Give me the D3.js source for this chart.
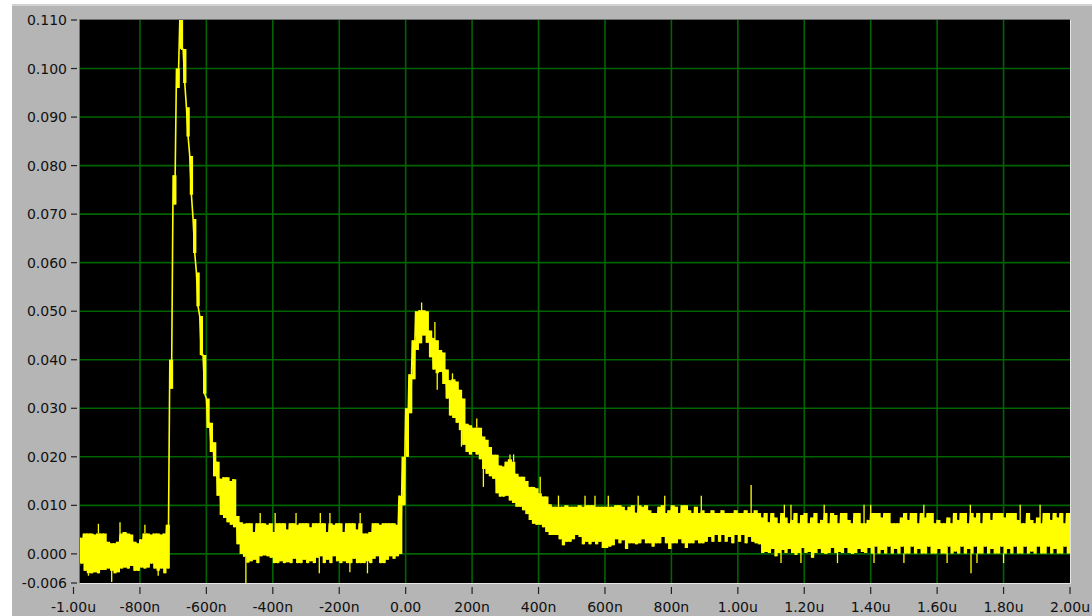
<!DOCTYPE html>
<html>
<head>
<meta charset="utf-8">
<script src="https://cdn.jsdelivr.net/npm/d3@7"></script>
<style>
  html, body { margin: 0; padding: 0; background: #ffffff; }
  svg { display: block; }
  text { font-family: "DejaVu Sans", sans-serif; font-size: 14px; fill: #111; }
</style>
</head>
<body>
<svg id="chart" width="1092" height="616"></svg>
<script>
// Waveform capture: amplitude vs. time, sampled every 10 ns from -1.00 us to 2.00 us.
// Each sample holds the upper and lower extent of the noisy trace in that interval.
const sampleStartNs = -1000;
const sampleStepNs = 10;

const bandHigh = [
  // -1000 .. -730 ns : pre-trigger baseline
  0.0035, 0.0035, 0.0033, 0.0042, 0.0042, 0.0042, 0.0040, 0.0042, 0.0042, 0.0042,
  0.0025, 0.0022, 0.0022, 0.0025, 0.0042, 0.0045, 0.0042, 0.0040, 0.0025, 0.0022,
  0.0030, 0.0042, 0.0042, 0.0040, 0.0042, 0.0042, 0.0040, 0.0042,
  // -720 .. -490 ns : first pulse
  0.006, 0.040, 0.078, 0.100, 0.110, 0.104, 0.092, 0.082, 0.069, 0.058,
  0.049, 0.041, 0.032, 0.027, 0.023, 0.019, 0.0155, 0.0158, 0.0158, 0.0150,
  0.0154, 0.0078, 0.0065, 0.0062,
  // -480 .. -30 ns : baseline between pulses
  0.0063, 0.0063, 0.0045, 0.0063, 0.0063, 0.0063, 0.0060, 0.0063, 0.0045, 0.0063,
  0.0063, 0.0063, 0.0050, 0.0063, 0.0063, 0.0060, 0.0063, 0.0063, 0.0063, 0.0055,
  0.0063, 0.0063, 0.0063, 0.0063, 0.0045, 0.0063, 0.0060, 0.0063, 0.0063, 0.0045,
  0.0063, 0.0063, 0.0063, 0.0050, 0.0063, 0.0042, 0.0042, 0.0045, 0.0063, 0.0063,
  0.0060, 0.0063, 0.0063, 0.0063, 0.0063, 0.0060,
  // -20 .. 630 ns : second pulse and tail
  0.012, 0.020, 0.030, 0.037, 0.044, 0.050, 0.0502, 0.0502, 0.0500, 0.046,
  0.0445, 0.0440, 0.0420, 0.0415, 0.038, 0.0358, 0.036, 0.0355, 0.0338, 0.032,
  0.0268, 0.0265, 0.026, 0.026, 0.026, 0.0242, 0.0235, 0.022, 0.0204, 0.0204,
  0.0182, 0.0180, 0.0190, 0.0195, 0.019, 0.0165, 0.0159, 0.0159, 0.0150, 0.0138,
  0.0138, 0.0135, 0.0125, 0.0118, 0.0118, 0.0102, 0.0097, 0.0097, 0.0097, 0.0097,
  0.0100, 0.0097, 0.0097, 0.0097, 0.0100, 0.0097, 0.0100, 0.0100, 0.0100, 0.0097,
  0.0097, 0.0097, 0.0097, 0.0097, 0.0097, 0.0100,
  // 640 .. 2000 ns : settled baseline
  0.0100, 0.0097, 0.0090, 0.0097, 0.0100, 0.0085, 0.0100, 0.0097, 0.0100, 0.0090,
  0.0084, 0.0084, 0.0097, 0.0100, 0.0084, 0.0090, 0.0100, 0.0097, 0.0084, 0.0100,
  0.0100, 0.0090, 0.0084, 0.0097, 0.0084, 0.0090, 0.0084, 0.0084, 0.0090, 0.0084,
  0.0084, 0.0090, 0.0084, 0.0084, 0.0084, 0.0090, 0.0084, 0.0084, 0.0090, 0.0084,
  0.0084, 0.0090, 0.0084, 0.0075, 0.0084, 0.0065, 0.0084, 0.0075, 0.0063, 0.0084,
  0.0075, 0.0063, 0.0070, 0.0084, 0.0063, 0.0080, 0.0084, 0.0063, 0.0075, 0.0084,
  0.0063, 0.0070, 0.0084, 0.0063, 0.0084, 0.0080, 0.0063, 0.0084, 0.0084, 0.0070,
  0.0063, 0.0084, 0.0084, 0.0063, 0.0063, 0.0070, 0.0084, 0.0084, 0.0084, 0.0075,
  0.0084, 0.0084, 0.0063, 0.0063, 0.0063, 0.0075, 0.0084, 0.0070, 0.0084, 0.0084,
  0.0063, 0.0084, 0.0075, 0.0084, 0.0084, 0.0063, 0.0070, 0.0063, 0.0063, 0.0075,
  0.0063, 0.0084, 0.0070, 0.0084, 0.0084, 0.0063, 0.0084, 0.0075, 0.0084, 0.0063,
  0.0084, 0.0084, 0.0070, 0.0084, 0.0084, 0.0084, 0.0075, 0.0084, 0.0084, 0.0084,
  0.0070, 0.0063, 0.0063, 0.0084, 0.0070, 0.0063, 0.0075, 0.0063, 0.0084, 0.0084,
  0.0070, 0.0084, 0.0075, 0.0084, 0.0063, 0.0084, 0.0084
];

const bandLow = [
  // -1000 .. -730 ns
  -0.0020, -0.0025, -0.0020, -0.0035, -0.0040, -0.0040, -0.0038, -0.0040, -0.0033, -0.0033,
  -0.0030, -0.0035, -0.0040, -0.0038, -0.0030, -0.0028, -0.0030, -0.0025, -0.0035, -0.0035,
  -0.0028, -0.0030, -0.0028, -0.0020, -0.0030, -0.0035, -0.0030, -0.0040,
  // -720 .. -490 ns
  -0.003, 0.034, 0.072, 0.096, 0.104, 0.097, 0.086, 0.074, 0.062, 0.051,
  0.041, 0.033, 0.026, 0.021, 0.016, 0.012, 0.008, 0.0074, 0.0065, 0.0060,
  0.0055, 0.0020, 0.0000, -0.0006,
  // -480 .. -30 ns
  -0.0018, -0.0015, -0.0012, -0.0019, -0.0005, -0.0003, -0.0005, -0.0008, -0.0019, -0.0019,
  -0.0015, -0.0019, -0.0017, -0.0019, -0.0010, -0.0019, -0.0019, -0.0012, -0.0019, -0.0015,
  -0.0019, -0.0008, -0.0005, -0.0019, -0.0012, -0.0019, -0.0005, -0.0015, -0.0019, -0.0015,
  -0.0019, -0.0019, -0.0010, -0.0019, -0.0019, -0.0019, -0.0015, -0.0019, -0.0010, -0.0005,
  -0.0019, -0.0019, -0.0012, -0.0005, -0.0010, -0.0005,
  // -20 .. 630 ns
  0.000, 0.010, 0.020, 0.029, 0.036, 0.042, 0.0434, 0.045, 0.0435, 0.0405,
  0.038, 0.0372, 0.0375, 0.035, 0.032, 0.0285, 0.028, 0.027, 0.0255, 0.0225,
  0.021, 0.0205, 0.021, 0.0205, 0.0195, 0.0175, 0.0165, 0.016, 0.0155, 0.0125,
  0.0118, 0.0118, 0.0120, 0.0110, 0.0105, 0.0097, 0.0097, 0.0090, 0.0082, 0.0070,
  0.0062, 0.0060, 0.0060, 0.0055, 0.0045, 0.0039, 0.0039, 0.0039, 0.0030, 0.0018,
  0.0025, 0.0025, 0.0030, 0.0039, 0.0035, 0.0020, 0.0025, 0.0020, 0.0025, 0.0020,
  0.0025, 0.0012, 0.0012, 0.0015, 0.0018, 0.0030,
  // 640 .. 2000 ns
  0.0022, 0.0028, 0.0010, 0.0022, 0.0022, 0.0020, 0.0022, 0.0030, 0.0022, 0.0022,
  0.0015, 0.0022, 0.0022, 0.0035, 0.0022, 0.0010, 0.0022, 0.0022, 0.0030, 0.0022,
  0.0012, 0.0022, 0.0022, 0.0028, 0.0022, 0.0022, 0.0025, 0.0035, 0.0025, 0.0039,
  0.0025, 0.0039, 0.0025, 0.0035, 0.0022, 0.0039, 0.0025, 0.0039, 0.0022, 0.0035,
  0.0025, 0.0022, 0.0020, 0.0002, 0.0004, 0.0002, 0.0010, -0.0005, 0.0002, 0.0008,
  0.0002, 0.0010, 0.0002, -0.0002, 0.0002, 0.0012, 0.0002, 0.0004, -0.0008, 0.0002,
  0.0010, 0.0002, 0.0000, 0.0002, 0.0012, 0.0002, 0.0004, 0.0002, 0.0012, 0.0002,
  0.0000, 0.0002, 0.0010, 0.0004, 0.0002, 0.0012, 0.0001, 0.0015, 0.0001, 0.0008,
  0.0001, 0.0015, 0.0001, 0.0010, 0.0001, 0.0015, 0.0001, 0.0001, 0.0015, 0.0001,
  0.0010, 0.0001, 0.0001, 0.0015, 0.0001, 0.0001, 0.0010, 0.0001, 0.0001, 0.0015,
  0.0001, 0.0005, 0.0001, 0.0015, 0.0001, 0.0010, 0.0001, 0.0015, 0.0001, 0.0001,
  0.0015, 0.0001, 0.0010, 0.0001, 0.0001, 0.0015, 0.0001, 0.0010, 0.0001, 0.0015,
  0.0001, 0.0001, 0.0015, 0.0001, 0.0005, 0.0001, 0.0015, 0.0001, 0.0001, 0.0015,
  0.0001, 0.0010, 0.0001, 0.0001, 0.0015, 0.0001, 0.0001
];

// Isolated excursions beyond the band: time (ns) and value.
const spikeTimesNs = [
  -925, -885, -860, -785, -955, -745,
  -438, -393, -330, -257, -228, -137, -481, -260, -168, -115,
  48, 88, 95, 141, 168, 214, 234, 263, 314, 325, 405, 460,
  540, 570, 610, 700, 780, 890, 1040, 1140, 1160, 1260, 1380, 1400, 1560, 1700, 1850, 1910,
  1130, 1190, 1300, 1410, 1500, 1630, 1702, 1800, 1720
];
const spikeValues = [
  0.0062, -0.0058, 0.0065, 0.0060, -0.0045, -0.0045,
  0.0084, 0.0084, 0.0084, 0.0084, 0.0084, 0.0084, -0.0060, -0.0040, -0.0038, -0.0040,
  0.0518, 0.0478, 0.0338, 0.0372, 0.0221, 0.0279, 0.0138, 0.0200, 0.0205, 0.0205, 0.0159, 0.0120,
  0.0120, 0.0120, 0.0120, 0.0120, 0.0120, 0.0120, 0.0142, 0.0101, 0.0101, 0.0101, 0.0101, 0.0101, 0.0101, 0.0101, 0.0101, 0.0101,
  -0.0019, -0.0019, -0.0019, -0.0019, -0.0019, -0.0019, -0.0040, -0.0019, -0.0019
];

// Axis ticks
const xTickValues = [-1000, -800, -600, -400, -200, 0, 200, 400, 600, 800, 1000, 1200, 1400, 1600, 1800, 2000];
const xTickLabels = ["-1.00u", "-800n", "-600n", "-400n", "-200n", "0.00", "200n", "400n", "600n", "800n",
                     "1.00u", "1.20u", "1.40u", "1.60u", "1.80u", "2.00u"];
const yTickValues = [0.110, 0.100, 0.090, 0.080, 0.070, 0.060, 0.050, 0.040, 0.030, 0.020, 0.010, 0.000, -0.006];
const yTickLabels = ["0.110", "0.100", "0.090", "0.080", "0.070", "0.060", "0.050", "0.040", "0.030", "0.020",
                     "0.010", "0.000", "-0.006"];
const xGridValues = [-800, -600, -400, -200, 0, 200, 400, 600, 800, 1000, 1200, 1400, 1600, 1800];
const yGridValues = [0.100, 0.090, 0.080, 0.070, 0.060, 0.050, 0.040, 0.030, 0.020, 0.010, 0.000];

// ---- layout ----
const plot = { left: 80, right: 1070, top: 20, bottom: 583 };
const colors = {
  panel: "#b5b5b5",
  panelLight: "#d2d2d2",
  plotBg: "#000000",
  grid: "#006400",
  trace: "#ffff00",
  frameDark: "#6e6e6e",
  frameLight: "#e6e6e6",
  tick: "#222"
};

const svg = d3.select("#chart");

const x = d3.scaleLinear().domain([-1000, 2000]).range([73.5, 1070]);
const y = d3.scaleLinear().domain([-0.006, 0.110]).range([plot.bottom, plot.top]);

// Panel
svg.append("rect").attr("x", 12).attr("y", 4).attr("width", 1080).attr("height", 612).attr("fill", colors.panel);
svg.append("rect").attr("x", 12).attr("y", 4).attr("width", 1080).attr("height", 2).attr("fill", colors.panelLight);

// Plot background
svg.append("rect")
  .attr("x", plot.left).attr("y", plot.top)
  .attr("width", plot.right - plot.left).attr("height", plot.bottom - plot.top)
  .attr("fill", colors.plotBg);

svg.append("defs").append("clipPath").attr("id", "plotClip")
  .append("rect")
  .attr("x", plot.left).attr("y", plot.top)
  .attr("width", plot.right - plot.left).attr("height", plot.bottom - plot.top);

const plotG = svg.append("g").attr("clip-path", "url(#plotClip)");

// Grid
plotG.append("g").selectAll("line").data(yGridValues).join("line")
  .attr("x1", plot.left).attr("x2", plot.right)
  .attr("y1", d => y(d)).attr("y2", d => y(d))
  .attr("stroke", colors.grid).attr("stroke-width", 1.6);
plotG.append("g").selectAll("line").data(xGridValues).join("line")
  .attr("x1", d => x(d)).attr("x2", d => x(d))
  .attr("y1", plot.top).attr("y2", plot.bottom)
  .attr("stroke", colors.grid).attr("stroke-width", 1.6);

const samples = bandHigh.map((hi, i) => ({ t: sampleStartNs + i * sampleStepNs, hi, lo: bandLow[i] }));

// Trace envelope: each 10 ns interval is filled between its minimum and maximum.
const band = d3.area()
  .x(d => x(d.t))
  .y0(d => y(d.lo))
  .y1(d => y(d.hi))
  .curve(d3.curveStepAfter);

plotG.append("path")
  .datum(samples)
  .attr("d", band)
  .attr("fill", colors.trace);

// Trace line: within each interval the signal touches its maximum first,
// then its minimum half an interval later.
const tracePoints = samples.flatMap(d => [
  { t: d.t, v: d.hi },
  { t: d.t + sampleStepNs / 2, v: d.lo }
]);

const traceLine = d3.line()
  .x(d => x(d.t))
  .y(d => y(d.v));

plotG.append("path")
  .datum(tracePoints)
  .attr("d", traceLine)
  .attr("fill", "none")
  .attr("stroke", colors.trace)
  .attr("stroke-width", 1.6)
  .attr("stroke-linejoin", "bevel");

// Spikes
const spikes = spikeTimesNs.map((t, i) => {
  const idx = Math.max(0, Math.min(samples.length - 1, Math.floor((t - sampleStartNs) / sampleStepNs)));
  const s = samples[idx];
  const v = spikeValues[i];
  return { t, v, from: v > s.hi ? s.hi : (v < s.lo ? s.lo : (s.hi + s.lo) / 2) };
});
plotG.append("g").selectAll("line").data(spikes).join("line")
  .attr("x1", d => x(d.t)).attr("x2", d => x(d.t))
  .attr("y1", d => y(d.from)).attr("y2", d => y(d.v))
  .attr("stroke", colors.trace).attr("stroke-width", 1.3);

// Inset frame around the plot
svg.append("path")
  .attr("d", `M${plot.left - 0.5},${plot.bottom}V${plot.top - 0.5}H${plot.right}`)
  .attr("fill", "none").attr("stroke", colors.frameDark).attr("stroke-width", 1);
svg.append("path")
  .attr("d", `M${plot.left},${plot.bottom + 0.5}H${plot.right + 0.5}V${plot.top}`)
  .attr("fill", "none").attr("stroke", colors.frameLight).attr("stroke-width", 1);

// Y axis
const yAxisG = svg.append("g");
yAxisG.selectAll("line").data(yTickValues).join("line")
  .attr("x1", 71).attr("x2", 77)
  .attr("y1", d => y(d)).attr("y2", d => y(d))
  .attr("stroke", colors.tick).attr("stroke-width", 1.2);
yAxisG.selectAll("text").data(yTickValues).join("text")
  .attr("x", 67).attr("y", d => y(d))
  .attr("text-anchor", "end").attr("dominant-baseline", "central")
  .text((d, i) => yTickLabels[i]);

// X axis
const xAxisG = svg.append("g");
xAxisG.selectAll("line").data(xTickValues).join("line")
  .attr("x1", d => x(d)).attr("x2", d => x(d))
  .attr("y1", 587).attr("y2", 594)
  .attr("stroke", colors.tick).attr("stroke-width", 1.2);
xAxisG.selectAll("text").data(xTickValues).join("text")
  .attr("x", d => x(d)).attr("y", 612)
  .attr("text-anchor", "middle")
  .text((d, i) => xTickLabels[i]);
</script>
</body>
</html>
